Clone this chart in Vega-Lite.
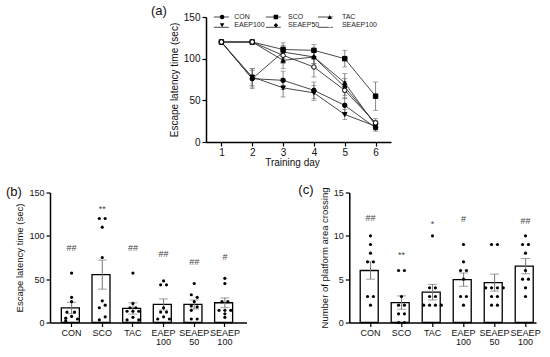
{
  "$schema": "https://vega.github.io/schema/vega-lite/v6.json",
  "padding": {"left": 6, "top": 5, "right": 0, "bottom": 0},
  "spacing": 16.5,
  "resolve": {"scale": {"shape": "independent", "fill": "independent", "stroke": "independent"}, "legend": {"shape": "independent", "fill": "independent", "stroke": "independent"}},
  "config": {
    "view": {"stroke": null},
    "font": "Liberation Sans",
    "axis": {
      "domainColor": "black", "domainWidth": 1.5, "tickColor": "black", "tickWidth": 1.2, "tickSize": 4,
      "labelColor": "#111", "titleColor": "#111", "titleFontWeight": "normal", "labelFontSize": 9,
      "titleFontSize": 9.5, "grid": false, "labelFont": "Liberation Sans", "titleFont": "Liberation Sans"
    },
    "title": {"font": "Liberation Sans", "fontWeight": "normal", "color": "#111"}
  },
  "datasets": {
    "lat": [
      {"day": 1, "group": "CON", "mean": 120, "sem": 0},
      {"day": 2, "group": "CON", "mean": 76, "sem": 10},
      {"day": 3, "group": "CON", "mean": 74, "sem": 11},
      {"day": 4, "group": "CON", "mean": 62, "sem": 10},
      {"day": 5, "group": "CON", "mean": 44, "sem": 9},
      {"day": 6, "group": "CON", "mean": 17, "sem": 4},
      {"day": 1, "group": "SCO", "mean": 120, "sem": 0},
      {"day": 2, "group": "SCO", "mean": 120, "sem": 0},
      {"day": 3, "group": "SCO", "mean": 111, "sem": 8},
      {"day": 4, "group": "SCO", "mean": 110, "sem": 7},
      {"day": 5, "group": "SCO", "mean": 100, "sem": 10},
      {"day": 6, "group": "SCO", "mean": 55, "sem": 17},
      {"day": 1, "group": "TAC", "mean": 120, "sem": 0},
      {"day": 2, "group": "TAC", "mean": 120, "sem": 0},
      {"day": 3, "group": "TAC", "mean": 98, "sem": 10},
      {"day": 4, "group": "TAC", "mean": 102, "sem": 8},
      {"day": 5, "group": "TAC", "mean": 71, "sem": 11},
      {"day": 6, "group": "TAC", "mean": 20, "sem": 5},
      {"day": 1, "group": "EAEP100", "mean": 120, "sem": 0},
      {"day": 2, "group": "EAEP100", "mean": 78, "sem": 10},
      {"day": 3, "group": "EAEP100", "mean": 65, "sem": 11},
      {"day": 4, "group": "EAEP100", "mean": 59, "sem": 9},
      {"day": 5, "group": "EAEP100", "mean": 33, "sem": 6},
      {"day": 6, "group": "EAEP100", "mean": 19, "sem": 4},
      {"day": 1, "group": "SEAEP50", "mean": 120, "sem": 0},
      {"day": 2, "group": "SEAEP50", "mean": 76, "sem": 12},
      {"day": 3, "group": "SEAEP50", "mean": 108, "sem": 8},
      {"day": 4, "group": "SEAEP50", "mean": 102, "sem": 8},
      {"day": 5, "group": "SEAEP50", "mean": 66, "sem": 10},
      {"day": 6, "group": "SEAEP50", "mean": 22, "sem": 4},
      {"day": 1, "group": "SEAEP100", "mean": 120, "sem": 0},
      {"day": 2, "group": "SEAEP100", "mean": 120, "sem": 0},
      {"day": 3, "group": "SEAEP100", "mean": 104, "sem": 10},
      {"day": 4, "group": "SEAEP100", "mean": 90, "sem": 12},
      {"day": 5, "group": "SEAEP100", "mean": 62, "sem": 10},
      {"day": 6, "group": "SEAEP100", "mean": 23, "sem": 5}
    ],
    "b_bars": [
      {"group": "CON", "mean": 16.8, "sem": 6.5, "sig": "##", "sigY": 86.5},
      {"group": "SCO", "mean": 55.3, "sem": 16.8, "sig": "**", "sigY": 131.5},
      {"group": "TAC", "mean": 16.2, "sem": 6.5, "sig": "##", "sigY": 86.5},
      {"group": "EAEP 100", "mean": 20.8, "sem": 6.4, "sig": "##", "sigY": 79},
      {"group": "SEAEP 50", "mean": 20.8, "sem": 5.2, "sig": "##", "sigY": 70},
      {"group": "SEAEP 100", "mean": 22.8, "sem": 5.6, "sig": "#", "sigY": 76}
    ],
    "b_dots": [
      {"group": "CON", "value": 57, "col": 0},
      {"group": "CON", "value": 29, "col": 0},
      {"group": "CON", "value": 24, "col": 0},
      {"group": "CON", "value": 12, "col": -0.8},
      {"group": "CON", "value": 12, "col": 0.5},
      {"group": "CON", "value": 7, "col": 0},
      {"group": "CON", "value": 5, "col": -1},
      {"group": "CON", "value": 4, "col": 1},
      {"group": "CON", "value": 2, "col": -1},
      {"group": "SCO", "value": 120, "col": -0.5},
      {"group": "SCO", "value": 120, "col": 0.5},
      {"group": "SCO", "value": 110, "col": 0},
      {"group": "SCO", "value": 75, "col": 0},
      {"group": "SCO", "value": 25, "col": 0},
      {"group": "SCO", "value": 20, "col": 0.5},
      {"group": "SCO", "value": 17, "col": -0.5},
      {"group": "SCO", "value": 6.5, "col": 0.5},
      {"group": "SCO", "value": 3, "col": -0.5},
      {"group": "TAC", "value": 57, "col": 0},
      {"group": "TAC", "value": 22, "col": 0},
      {"group": "TAC", "value": 17, "col": -0.5},
      {"group": "TAC", "value": 17, "col": 0.5},
      {"group": "TAC", "value": 13, "col": -1},
      {"group": "TAC", "value": 13, "col": 0},
      {"group": "TAC", "value": 13, "col": 1},
      {"group": "TAC", "value": 6, "col": 0},
      {"group": "TAC", "value": 3, "col": -1},
      {"group": "TAC", "value": 3, "col": 1},
      {"group": "EAEP 100", "value": 48, "col": 0},
      {"group": "EAEP 100", "value": 43.5, "col": -0.5},
      {"group": "EAEP 100", "value": 43.5, "col": 0.5},
      {"group": "EAEP 100", "value": 17, "col": 0},
      {"group": "EAEP 100", "value": 12, "col": -0.5},
      {"group": "EAEP 100", "value": 12, "col": 0.5},
      {"group": "EAEP 100", "value": 6.5, "col": 0},
      {"group": "EAEP 100", "value": 4, "col": -1},
      {"group": "EAEP 100", "value": 4, "col": 1},
      {"group": "SEAEP 50", "value": 45, "col": 0},
      {"group": "SEAEP 50", "value": 32, "col": -0.5},
      {"group": "SEAEP 50", "value": 29, "col": 0.5},
      {"group": "SEAEP 50", "value": 24, "col": 0},
      {"group": "SEAEP 50", "value": 19, "col": -0.5},
      {"group": "SEAEP 50", "value": 18, "col": 0.5},
      {"group": "SEAEP 50", "value": 14, "col": -0.5},
      {"group": "SEAEP 50", "value": 4, "col": -0.5},
      {"group": "SEAEP 50", "value": 4, "col": 0.5},
      {"group": "SEAEP 100", "value": 51, "col": 0},
      {"group": "SEAEP 100", "value": 45, "col": 0},
      {"group": "SEAEP 100", "value": 24, "col": -0.5},
      {"group": "SEAEP 100", "value": 24, "col": 0.5},
      {"group": "SEAEP 100", "value": 14, "col": -1},
      {"group": "SEAEP 100", "value": 14, "col": 0},
      {"group": "SEAEP 100", "value": 14, "col": 1},
      {"group": "SEAEP 100", "value": 10, "col": 0},
      {"group": "SEAEP 100", "value": 6, "col": 0}
    ],
    "c_bars": [
      {"group": "CON", "mean": 6.0, "sem": 1.0, "sig": "##", "sigY": 12.1},
      {"group": "SCO", "mean": 2.3, "sem": 0.77, "sig": "**", "sigY": 7.8},
      {"group": "TAC", "mean": 3.5, "sem": 0.9, "sig": "*", "sigY": 11.4},
      {"group": "EAEP 100", "mean": 4.95, "sem": 0.77, "sig": "#", "sigY": 11.9},
      {"group": "SEAEP 50", "mean": 4.6, "sem": 0.98, "sig": "", "sigY": 11},
      {"group": "SEAEP 100", "mean": 6.5, "sem": 0.88, "sig": "##", "sigY": 11.7}
    ],
    "c_dots": [
      {"group": "CON", "value": 10, "col": 0},
      {"group": "CON", "value": 9, "col": 0},
      {"group": "CON", "value": 8, "col": 0},
      {"group": "CON", "value": 7, "col": -0.5},
      {"group": "CON", "value": 7, "col": 0.5},
      {"group": "CON", "value": 3, "col": -0.5},
      {"group": "CON", "value": 3, "col": 0.5},
      {"group": "CON", "value": 2, "col": 0},
      {"group": "SCO", "value": 6, "col": -0.5},
      {"group": "SCO", "value": 6, "col": 0.5},
      {"group": "SCO", "value": 3, "col": 0},
      {"group": "SCO", "value": 2, "col": -0.5},
      {"group": "SCO", "value": 2, "col": 0.5},
      {"group": "SCO", "value": 1, "col": -0.5},
      {"group": "SCO", "value": 1, "col": 0.5},
      {"group": "SCO", "value": 0, "col": -0.5},
      {"group": "SCO", "value": 0, "col": 0.5},
      {"group": "TAC", "value": 10, "col": 0},
      {"group": "TAC", "value": 4, "col": -0.5},
      {"group": "TAC", "value": 4, "col": 0.5},
      {"group": "TAC", "value": 3, "col": -0.5},
      {"group": "TAC", "value": 3, "col": 0.5},
      {"group": "TAC", "value": 2, "col": -1.5},
      {"group": "TAC", "value": 2, "col": -0.5},
      {"group": "TAC", "value": 2, "col": 0.5},
      {"group": "TAC", "value": 2, "col": 1.5},
      {"group": "EAEP 100", "value": 9, "col": 0},
      {"group": "EAEP 100", "value": 7, "col": 0},
      {"group": "EAEP 100", "value": 6, "col": -0.5},
      {"group": "EAEP 100", "value": 6, "col": 0.5},
      {"group": "EAEP 100", "value": 5, "col": 0},
      {"group": "EAEP 100", "value": 3, "col": -0.5},
      {"group": "EAEP 100", "value": 3, "col": 0.5},
      {"group": "EAEP 100", "value": 2, "col": 0},
      {"group": "SEAEP 50", "value": 9, "col": -0.5},
      {"group": "SEAEP 50", "value": 9, "col": 0.5},
      {"group": "SEAEP 50", "value": 4, "col": -1.5},
      {"group": "SEAEP 50", "value": 4, "col": -0.5},
      {"group": "SEAEP 50", "value": 4, "col": 0.5},
      {"group": "SEAEP 50", "value": 4, "col": 1.5},
      {"group": "SEAEP 50", "value": 3, "col": -0.5},
      {"group": "SEAEP 50", "value": 3, "col": 0.5},
      {"group": "SEAEP 50", "value": 2, "col": -0.5},
      {"group": "SEAEP 50", "value": 2, "col": 0.5},
      {"group": "SEAEP 100", "value": 10, "col": 0},
      {"group": "SEAEP 100", "value": 9, "col": -0.5},
      {"group": "SEAEP 100", "value": 9, "col": 0.5},
      {"group": "SEAEP 100", "value": 8, "col": 0},
      {"group": "SEAEP 100", "value": 6, "col": 0},
      {"group": "SEAEP 100", "value": 5, "col": -0.5},
      {"group": "SEAEP 100", "value": 5, "col": 0.5},
      {"group": "SEAEP 100", "value": 4, "col": 0},
      {"group": "SEAEP 100", "value": 3, "col": 0}
    ]
  },
  "vconcat": [
    {
      "bounds": "flush",
      "spacing": 0,
      "resolve": {"scale": {"shape": "independent", "fill": "independent", "stroke": "independent"}, "legend": {"shape": "independent", "fill": "independent", "stroke": "independent"}},
      "hconcat": [
        {"width": 155.4, "height": 125, "data": {"values": []}, "mark": "point", "encoding": {}},
        {
          "width": 185,
          "height": 125,
          "title": {"text": "(a)", "anchor": "start", "frame": "group", "fontSize": 13, "dx": -55, "dy": 6, "offset": 0},
          "data": {"name": "lat"},
          "encoding": {
            "x": {"field": "day", "type": "quantitative", "scale": {"domain": [0.5, 6.5], "nice": false, "zero": false},
                  "axis": {"values": [1, 2, 3, 4, 5, 6], "title": "Training day", "titleX": 86, "labelFontSize": 10, "titleFontSize": 10, "titlePadding": 0, "labelPadding": 1}},
            "y": {"field": "mean", "type": "quantitative", "scale": {"domain": [0, 150], "nice": false},
                  "axis": {"values": [0, 50, 100, 150], "title": "Escape latency time (sec)", "labelFontSize": 10, "titleFontSize": 10}}
          },
          "layer": [
            {
              "mark": {"type": "errorbar", "color": "#666", "thickness": 0.8, "ticks": {"size": 5, "color": "#666"}},
              "encoding": {"yError": {"field": "sem"}}
            },
            {
              "mark": {"type": "line", "strokeWidth": 0.9},
              "encoding": {
                "stroke": {"field": "group", "type": "nominal",
                  "scale": {"domain": ["CON", "SCO", "TAC", "EAEP100", "SEAEP50", "SEAEP100"],
                            "range": ["#333", "#333", "#333", "#333", "#333", "#333"]},
                  "legend": {"orient": "none", "legendX": 7.3, "legendY": -4, "columns": 3, "gridAlign": "all", "title": null,
                             "values": ["CON", "EAEP100", "SCO", "SEAEP50", "TAC", "SEAEP100"],
                             "symbolType": "stroke", "symbolSize": 225, "symbolStrokeWidth": 0.9, "labelExpr": "''",
                             "labelOffset": 0, "columnPadding": 36, "rowPadding": 0.3, "clipHeight": 8}}
              }
            },
            {
              "mark": {"type": "point", "stroke": "black", "strokeWidth": 1, "size": 20, "opacity": 1},
              "encoding": {
                "shape": {"field": "group", "type": "nominal",
                  "scale": {"domain": ["CON", "EAEP100", "SCO", "SEAEP50", "TAC", "SEAEP100"],
                            "range": ["circle", "triangle-down", "square", "diamond", "triangle-up", "circle"]},
                  "legend": {"orient": "none", "legendX": 12.6, "legendY": -4, "columns": 3, "gridAlign": "all", "title": null, "labelFontSize": 7,
                             "symbolSize": 20, "labelOffset": 8.7, "columnPadding": 2.8, "rowPadding": 0.3, "clipHeight": 8, "symbolStrokeColor": "black",
                             "symbolStrokeWidth": 1, "labelColor": "#222"}},
                "fill": {"field": "group", "type": "nominal",
                  "scale": {"domain": ["CON", "EAEP100", "SCO", "SEAEP50", "TAC", "SEAEP100"],
                            "range": ["black", "black", "black", "black", "black", "white"]},
                  "legend": {"orient": "none", "legendX": 12.6, "legendY": -4, "columns": 3, "gridAlign": "all", "title": null, "labelFontSize": 7,
                             "symbolSize": 20, "labelOffset": 8.7, "columnPadding": 2.8, "rowPadding": 0.3, "clipHeight": 8, "symbolStrokeColor": "black",
                             "symbolStrokeWidth": 1, "labelColor": "#222"}}
              }
            }
          ]
        }
      ]
    },
    {
      "bounds": "flush",
      "spacing": 102.3,
      "hconcat": [
        {
          "width": 196.5,
          "height": 130,
          "title": {"text": "(b)", "anchor": "start", "frame": "group", "fontSize": 13, "dx": -44, "dy": 10, "offset": 0},
          "encoding": {
            "x": {"field": "group", "type": "nominal", "sort": null,
                  "scale": {"domain": ["CON", "SCO", "TAC", "EAEP 100", "SEAEP 50", "SEAEP 100"], "paddingInner": 0.33, "paddingOuter": 0.37, "align": 0.5},
                  "axis": {"title": null, "labelAngle": 0, "labelExpr": "split(datum.label, ' ')", "labelPadding": 2, "labelLineHeight": 9}}
          },
          "layer": [
            {
              "data": {"name": "b_bars"},
              "mark": {"type": "bar", "fill": "white", "stroke": "black", "strokeWidth": 1.3},
              "encoding": {
                "y": {"field": "mean", "type": "quantitative", "title": "Escape latency time (sec)", "scale": {"domain": [0, 150], "nice": false},
                      "axis": {"values": [0, 50, 100, 150]}}
              }
            },
            {
              "data": {"name": "b_bars"},
              "mark": {"type": "errorbar", "color": "#777", "thickness": 1, "ticks": {"size": 9, "color": "#777"}},
              "encoding": {"y": {"field": "mean", "type": "quantitative", "title": "Escape latency time (sec)"}, "yError": {"field": "sem"}}
            },
            {
              "data": {"name": "b_dots"},
              "mark": {"type": "point", "filled": true, "color": "black", "size": 10, "opacity": 1},
              "encoding": {
                "y": {"field": "value", "type": "quantitative", "title": "Escape latency time (sec)"},
                "xOffset": {"field": "col", "type": "quantitative", "scale": {"domain": [-1.75, 1.75]}}
              }
            },
            {
              "data": {"name": "b_bars"},
              "mark": {"type": "text", "fontSize": 9, "color": "#444", "baseline": "middle"},
              "encoding": {"y": {"field": "sigY", "type": "quantitative", "title": "Escape latency time (sec)"}, "text": {"field": "sig"}}
            }
          ]
        },
        {
          "width": 186.7,
          "height": 130,
          "title": {"text": "(c)", "anchor": "start", "frame": "group", "fontSize": 13, "dx": -51, "dy": 10, "offset": 0},
          "encoding": {
            "x": {"field": "group", "type": "nominal", "sort": null,
                  "scale": {"domain": ["CON", "SCO", "TAC", "EAEP 100", "SEAEP 50", "SEAEP 100"], "paddingInner": 0.33, "paddingOuter": 0.176, "align": 1},
                  "axis": {"title": null, "labelAngle": 0, "labelExpr": "split(datum.label, ' ')", "labelPadding": 2, "labelLineHeight": 9}}
          },
          "layer": [
            {
              "data": {"name": "c_bars"},
              "mark": {"type": "bar", "fill": "white", "stroke": "black", "strokeWidth": 1.3},
              "encoding": {
                "y": {"field": "mean", "type": "quantitative", "title": "Number of platform area crossing", "scale": {"domain": [0, 15], "nice": false},
                      "axis": {"values": [0, 5, 10, 15]}}
              }
            },
            {
              "data": {"name": "c_bars"},
              "mark": {"type": "errorbar", "color": "#777", "thickness": 1, "ticks": {"size": 9, "color": "#777"}},
              "encoding": {"y": {"field": "mean", "type": "quantitative", "title": "Number of platform area crossing"}, "yError": {"field": "sem"}}
            },
            {
              "data": {"name": "c_dots"},
              "mark": {"type": "point", "filled": true, "color": "black", "size": 10, "opacity": 1},
              "encoding": {
                "y": {"field": "value", "type": "quantitative", "title": "Number of platform area crossing"},
                "xOffset": {"field": "col", "type": "quantitative", "scale": {"domain": [-1.75, 1.75]}}
              }
            },
            {
              "data": {"name": "c_bars"},
              "mark": {"type": "text", "fontSize": 9, "color": "#444", "baseline": "middle"},
              "encoding": {"y": {"field": "sigY", "type": "quantitative", "title": "Number of platform area crossing"}, "text": {"field": "sig"}}
            }
          ]
        }
      ]
    }
  ]
}
